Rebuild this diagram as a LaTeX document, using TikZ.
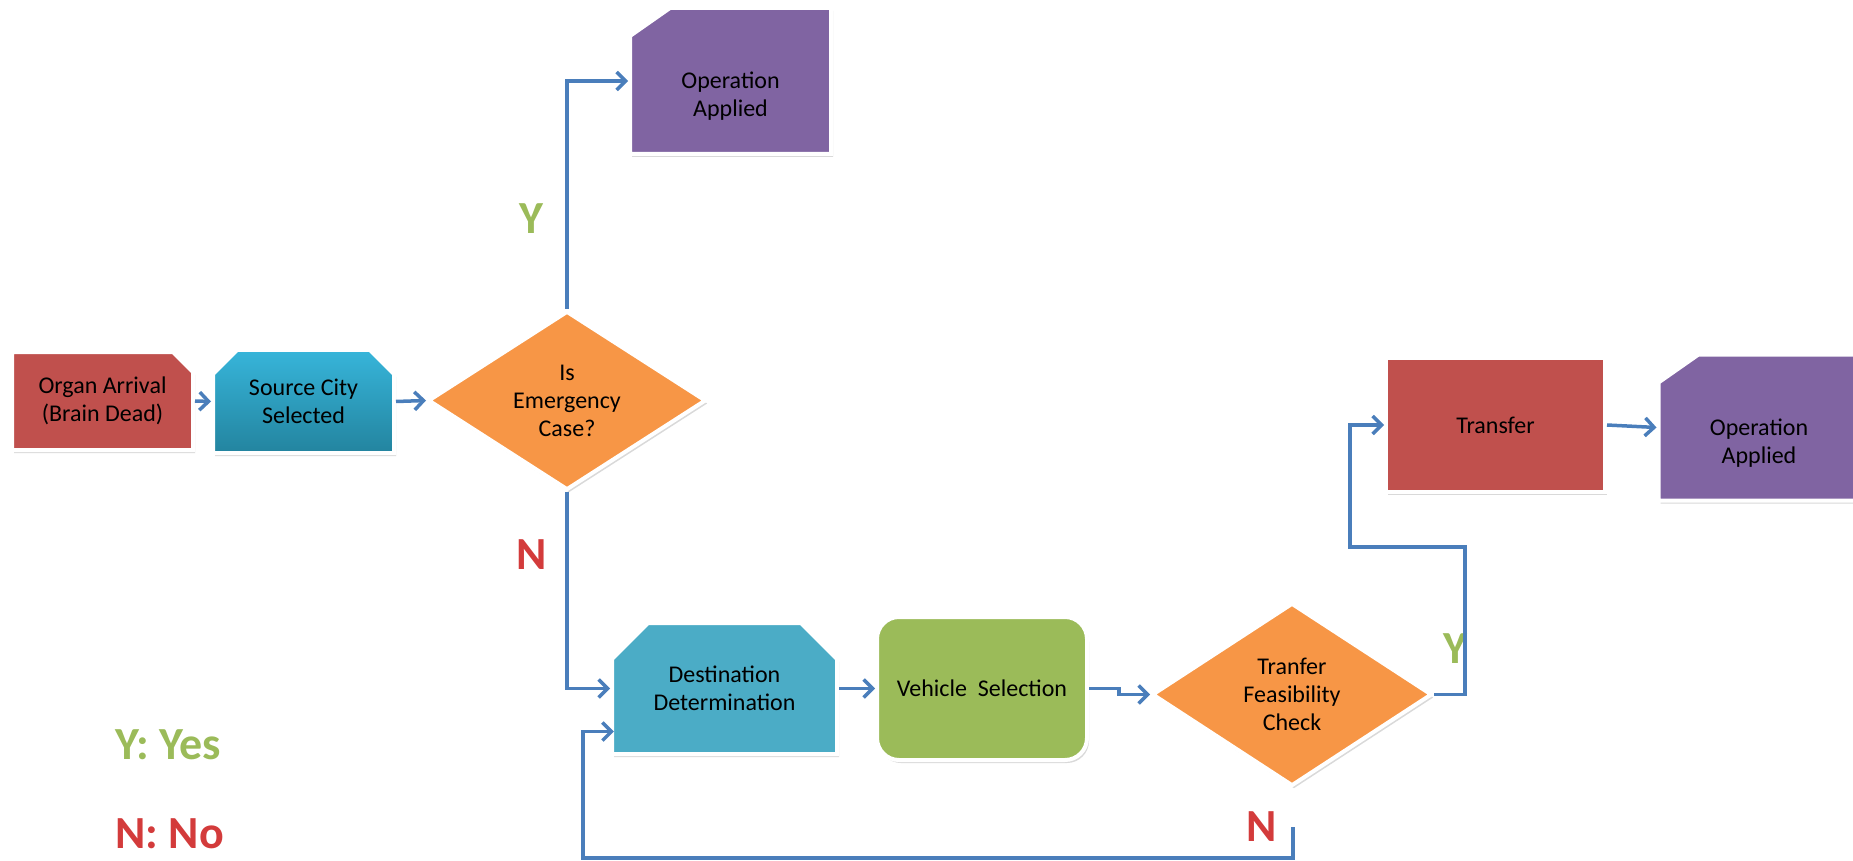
\documentclass[tikz,border=0pt]{standalone}
\usepackage{fontspec}
\setmainfont{Carlito}
\usetikzlibrary{shapes.geometric,shapes.misc,shadows,arrows.meta,calc}
\definecolor{linkblue}{HTML}{4A7EBB}
\definecolor{boxred}{HTML}{C0504D}
\definecolor{boxaqua}{HTML}{4BACC6}
\definecolor{srctop}{HTML}{37B5DA}
\definecolor{srcbot}{HTML}{23849F}
\definecolor{boxpurple}{HTML}{8064A2}
\definecolor{boxorange}{HTML}{F79646}
\definecolor{boxgreen}{HTML}{9BBB59}
\definecolor{nored}{HTML}{D33B3B}

\begin{document}
\begin{tikzpicture}[x=0.5pt, y=-0.5pt,
  every node/.style={font=\fontsize{12}{14}\selectfont, align=center, inner sep=0pt},
  box/.style={draw=white, line width=2pt, drop shadow={opacity=.3, shadow xshift=1pt, shadow yshift=-1.5pt}},
  snip/.style={box, chamfered rectangle, chamfered rectangle corners={#1}},
  opbox/.style={snip=north west, fill=boxpurple, minimum width=100.5pt, minimum height=73pt, text height=36pt, text depth=0pt, chamfered rectangle angle=55, chamfered rectangle xsep=10pt, chamfered rectangle ysep=7pt},
  decision/.style={box, diamond, aspect=1.55, fill=boxorange},
  flow/.style={linkblue, line width=1.75pt, -{Straight Barb[length=4.5pt, width=9pt]}},
  yes/.style={font=\fontsize{23}{27}\selectfont\bfseries, text=boxgreen},
  no/.style={font=\fontsize{23}{27}\selectfont\bfseries, text=nored}]
\useasboundingbox (0,0) rectangle (1853,861);
\node[snip=north east, fill=boxred, minimum width=90.5pt, minimum height=49pt, chamfered rectangle sep=5pt] (organ) at (102.5,401) {Organ Arrival\\(Brain Dead)};
\node[snip={north west,north east}, top color=srctop, bottom color=srcbot, minimum width=90.5pt, minimum height=51.5pt, chamfered rectangle sep=6pt] (src) at (303.5,401.5) {Source City\\Selected};
\node[decision, minimum width=139pt, minimum height=89.5pt] (emerg) at (567,400.5) {Is\\Emergency\\Case?};
\node[opbox] (optop) at (730.5,81) {Operation\\Applied};
\node[snip={north west,north east}, fill=boxaqua, minimum width=112.5pt, minimum height=65.5pt, chamfered rectangle sep=9pt] (dest) at (724.5,688.5) {Destination\\Determination};
\node[box, rounded corners=11pt, fill=boxgreen, minimum width=105pt, minimum height=71.5pt] (veh) at (982,688.5) {Vehicle\ \ Selection};
\node[decision, minimum width=140pt, minimum height=91.5pt] (feas) at (1292,694.5) {Tranfer\\Feasibility\\Check};
\node[box, fill=boxred, minimum width=109.5pt, minimum height=67pt] (trans) at (1495.5,425) {Transfer};
\node[opbox] (opright) at (1759,427.5) {Operation\\Applied};
\node[yes] (y1) at (531,219) {Y};
\node[no] (n1) at (532,555) {N};
\node[yes] (y2) at (1455,649) {Y};
\node[no] (n2) at (1262,827) {N};
\node[yes, anchor=west] (legy) at (115,745) {Y: Yes};
\node[no, anchor=west] (legn) at (115,834) {N: No};
\coordinate (yturn) at (1465,547);
\coordinate (nstart) at (1293,827);
\coordinate (nturn) at (583,858);
\coordinate (nin) at ($(dest.south west)!0.21!(dest.north west)$);
\draw[flow] (organ.east) -- (src.west);
\draw[flow] (src.east) -- (emerg.west);
\draw[flow] (emerg.north) |- (optop.west);
\draw[flow] (emerg.south) |- (dest.west);
\draw[flow] (dest.east) -- (veh.west);
\draw[flow] (veh.east) -- ++(30,0) |- (feas.west);
\draw[flow] (feas.east) -| (yturn) -- ++(-115,0) |- (trans.west);
\draw[flow] (trans.east) -- (opright.west);
\draw[flow] (nstart) |- (nturn) |- (nin);
\end{tikzpicture}
\end{document}
